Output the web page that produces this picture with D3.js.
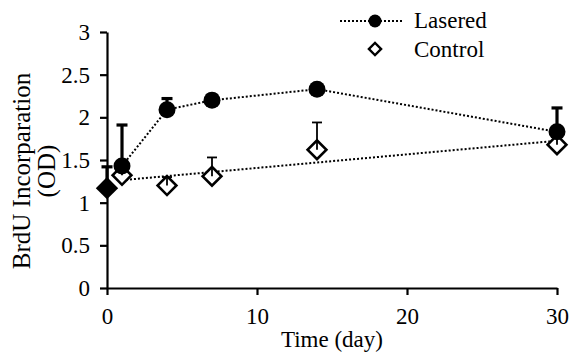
<!DOCTYPE html>
<html>
<head>
<meta charset="utf-8">
<script src="https://cdn.jsdelivr.net/npm/d3@7"></script>
<style>
  body { margin: 0; background: #fff; }
</style>
</head>
<body>
<div id="viz"></div>
<script>
// Data.
var baseDay = [0];
var baseValue = [1.17];
var baseErr = [0.25];

var laserDay = [1, 4, 7, 14, 30];
var laserValue = [1.43, 2.09, 2.2, 2.33, 1.83];
var laserErr = [0.48, 0.13, 0.06, 0.04, 0.28];

var controlDay = [1, 4, 7, 14, 30];
var controlValue = [1.32, 1.2, 1.31, 1.62, 1.68];
var controlErr = [0.08, 0.1, 0.22, 0.32, 0.1];

var xTicks = [0, 10, 20, 30];
var yTicks = [0, 0.5, 1, 1.5, 2, 2.5, 3];

var FONT = "'Liberation Serif', 'DejaVu Serif', serif";

var W = 574, H = 354;
var svg = d3.select("#viz").append("svg")
	.attr("width", W)
	.attr("height", H)
	.attr("font-family", FONT);

var x = d3.scaleLinear().domain([0, 30]).range([107, 557]);
var y = d3.scaleLinear().domain([0, 3]).range([288, 32]);

// Axes.
var yAxis = svg.append("g")
	.attr("transform", "translate(107,0)")
	.call(d3.axisLeft(y).tickValues(yTicks).tickSize(7).tickSizeOuter(0).tickPadding(10).tickFormat(d3.format("")));
var xAxis = svg.append("g")
	.attr("transform", "translate(0,288)")
	.call(d3.axisBottom(x).tickValues(xTicks).tickSize(7).tickSizeOuter(0).tickPadding(13));

[xAxis, yAxis].forEach(function (g) {
	g.attr("font-family", FONT).attr("font-size", 23);
	g.selectAll("path, line").attr("stroke", "#000").attr("stroke-width", 2.2);
	g.selectAll("text").attr("fill", "#000");
});

// Axis titles.
svg.append("text")
	.attr("x", x(15))
	.attr("y", 347)
	.attr("text-anchor", "middle")
	.attr("font-size", 23)
	.text("Time (day)");

var yl = svg.append("text")
	.attr("transform", "translate(30,171) rotate(-90)")
	.attr("text-anchor", "middle")
	.attr("font-size", 25);
yl.append("tspan").attr("x", 0).attr("y", 0).text("BrdU Incorparation");
yl.append("tspan").attr("x", 0).attr("y", 25).text("(OD)");

// Control trend line (least squares over control points).
var mx = d3.mean(controlDay), my = d3.mean(controlValue);
var sxy = d3.sum(controlDay, function (d, i) { return (d - mx) * (controlValue[i] - my); });
var sxx = d3.sum(controlDay, function (d) { return (d - mx) * (d - mx); });
var slope = sxy / sxx, icpt = my - slope * mx;
var trendDays = d3.extent(controlDay);

svg.append("line")
	.attr("x1", x(trendDays[0])).attr("y1", y(icpt + slope * trendDays[0]))
	.attr("x2", x(trendDays[1])).attr("y2", y(icpt + slope * trendDays[1]))
	.attr("stroke", "#000")
	.attr("stroke-width", 2)
	.attr("stroke-dasharray", "2,2");

// Lasered line.
var line = d3.line()
	.x(function (d) { return x(d[0]); })
	.y(function (d) { return y(d[1]); });

svg.append("path")
	.datum(d3.zip(laserDay, laserValue))
	.attr("d", line)
	.attr("fill", "none")
	.attr("stroke", "#000")
	.attr("stroke-width", 2)
	.attr("stroke-dasharray", "2,2");

// Control markers.
svg.selectAll(".ctrl")
	.data(d3.zip(controlDay, controlValue))
	.enter().append("path")
	.attr("transform", function (d) { return "translate(" + x(d[0]) + "," + y(d[1]) + ") rotate(45)"; })
	.attr("d", d3.symbol().type(d3.symbolSquare2).size(225))
	.attr("fill", "#fff")
	.attr("stroke", "#000")
	.attr("stroke-width", 2.6);

// Control error bars.
controlDay.forEach(function (d, i) {
	var cx = x(d), top = y(controlValue[i] + controlErr[i]);
	svg.append("line")
		.attr("x1", cx).attr("x2", cx)
		.attr("y1", y(controlValue[i])).attr("y2", top)
		.attr("stroke", "#000").attr("stroke-width", 1.8);
	svg.append("line")
		.attr("x1", cx - 5).attr("x2", cx + 5)
		.attr("y1", top).attr("y2", top)
		.attr("stroke", "#000").attr("stroke-width", 1.8);
});

// Lasered markers.
svg.selectAll(".las")
	.data(d3.zip(laserDay, laserValue))
	.enter().append("circle")
	.attr("cx", function (d) { return x(d[0]); })
	.attr("cy", function (d) { return y(d[1]); })
	.attr("r", 8.5)
	.attr("fill", "#000");

// Lasered and baseline error bars.
function thickBar(day, value, err) {
	var cx = x(day), top = y(value + err);
	svg.append("line")
		.attr("x1", cx).attr("x2", cx)
		.attr("y1", y(value)).attr("y2", top)
		.attr("stroke", "#000").attr("stroke-width", 3.2);
	svg.append("line")
		.attr("x1", cx - 5.5).attr("x2", cx + 5.5)
		.attr("y1", top).attr("y2", top)
		.attr("stroke", "#000").attr("stroke-width", 3.2);
}
laserDay.forEach(function (d, i) { thickBar(d, laserValue[i], laserErr[i]); });
baseDay.forEach(function (d, i) { thickBar(d, baseValue[i], baseErr[i]); });

// Baseline (day 0) filled diamond.
svg.selectAll(".base")
	.data(d3.zip(baseDay, baseValue))
	.enter().append("path")
	.attr("transform", function (d) { return "translate(" + x(d[0]) + "," + y(d[1]) + ") rotate(45)"; })
	.attr("d", d3.symbol().type(d3.symbolSquare).size(250))
	.attr("fill", "#000");

// Legend.
var lg = svg.append("g").attr("font-size", 23);
lg.append("line")
	.attr("x1", 340).attr("x2", 404).attr("y1", 21).attr("y2", 21)
	.attr("stroke", "#000").attr("stroke-width", 2).attr("stroke-dasharray", "2,2");
lg.append("circle").attr("cx", 375).attr("cy", 21).attr("r", 6.5).attr("fill", "#000");
lg.append("text").attr("x", 414).attr("y", 28).text("Lasered");
lg.append("path")
	.attr("transform", "translate(375,49) rotate(45)")
	.attr("d", d3.symbol().type(d3.symbolSquare2).size(95))
	.attr("fill", "#fff").attr("stroke", "#000").attr("stroke-width", 2.4);
lg.append("text").attr("x", 414).attr("y", 57).text("Control");
</script>
</body>
</html>
